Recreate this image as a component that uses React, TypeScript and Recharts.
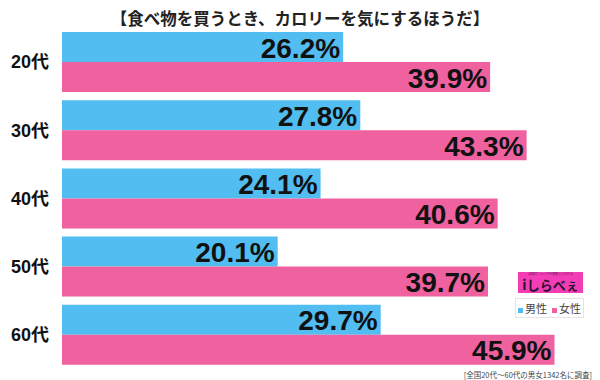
import { BarChart, Bar, XAxis, YAxis, LabelList } from 'recharts';

const ages = ['20代', '30代', '40代', '50代', '60代'];
const male = [26.2, 27.8, 24.1, 20.1, 29.7];
const female = [39.9, 43.3, 40.6, 39.7, 45.9];

const BLUE = '#52BDF0';
const PINK = '#F0619F';
const FONT = '"Liberation Sans", Arial, "Noto Sans CJK JP", sans-serif';

const data = ages.map((age, i) => ({ age, male: male[i], female: female[i] }));

// value label drawn inside the bar, right aligned at the bar end
const ValueLabel = (props: any) => {
  const { x, y, width, height, value } = props;
  return (
    <text
      x={x + width - 3}
      y={y + height / 2 + 1}
      textAnchor="end"
      dominantBaseline="central"
      fontSize={28}
      fontWeight="bold"
      fontFamily={FONT}
      fill="#111"
    >
      {`${value}%`}
    </text>
  );
};

const Swatch = ({ color }: { color: string }) => (
  <span
    style={{
      display: 'inline-block',
      width: 5,
      height: 5,
      background: color,
      marginRight: 2,
      verticalAlign: 'middle',
    }}
  />
);

export default function App() {
  return (
    <div
      style={{
        position: 'absolute',
        left: 0,
        top: 0,
        width: 600,
        height: 380,
        background: '#fff',
        fontFamily: FONT,
      }}
    >
      <div
        style={{
          position: 'absolute',
          top: 6,
          left: 0,
          width: 600,
          textAlign: 'center',
          fontSize: 16.5,
          fontWeight: 'bold',
          color: '#222',
          fontFamily: FONT,
        }}
      >
        【食べ物を買うとき、カロリーを気にするほうだ】
      </div>
      <BarChart
        width={600}
        height={380}
        data={data}
        layout="vertical"
        margin={{ top: 28, right: 1.5, bottom: 11, left: 0 }}
        barCategoryGap={4}
        barGap={0}
      >
        <XAxis type="number" domain={[0, 50]} hide />
        <YAxis
          type="category"
          dataKey="age"
          width={62}
          axisLine={false}
          tickLine={false}
          tickSize={0}
          tickMargin={13}
          tick={{ fontSize: 18, fontWeight: 'bold', fill: '#111', fontFamily: FONT }}
        />
        <Bar dataKey="male" fill={BLUE} isAnimationActive={false}>
          <LabelList dataKey="male" content={ValueLabel} />
        </Bar>
        <Bar dataKey="female" fill={PINK} isAnimationActive={false}>
          <LabelList dataKey="female" content={ValueLabel} />
        </Bar>
      </BarChart>
      {/* logo */}
      <div
        style={{
          position: 'absolute',
          left: 518,
          top: 272,
          width: 65,
          height: 21,
          background: '#F23DB5',
          color: '#2e1030',
          textAlign: 'center',
          lineHeight: 1,
          overflow: 'hidden',
          whiteSpace: 'nowrap',
        }}
      >
        <div style={{ fontSize: 3, height: 4, marginTop: 1, opacity: 0.7 }}>話題のニュースを調査しつづける</div>
        <div style={{ fontSize: 13, fontWeight: 'bold', fontFamily: '"Noto Sans CJK JP", sans-serif' }}>
          <span style={{ fontSize: 14 }}>i</span>しらべぇ
        </div>
      </div>
      {/* legend */}
      <div
        style={{
          position: 'absolute',
          left: 515,
          top: 298,
          width: 69,
          height: 20,
          border: '1px solid #e4e4e4',
          boxSizing: 'border-box',
          fontSize: 11,
          color: '#444',
          display: 'flex',
          alignItems: 'center',
          justifyContent: 'center',
          gap: 5,
          whiteSpace: 'nowrap',
          fontFamily: '"Noto Sans CJK JP", sans-serif',
        }}
      >
        <span>
          <Swatch color={BLUE} />男性
        </span>
        <span>
          <Swatch color={PINK} />女性
        </span>
      </div>
      <div
        style={{
          position: 'absolute',
          right: 8,
          top: 369,
          fontSize: 7.5,
          color: '#444',
          fontFamily: '"Noto Sans CJK JP", sans-serif',
          whiteSpace: 'nowrap',
        }}
      >
        [全国20代～60代の男女1342名に調査]
      </div>
    </div>
  );
}
